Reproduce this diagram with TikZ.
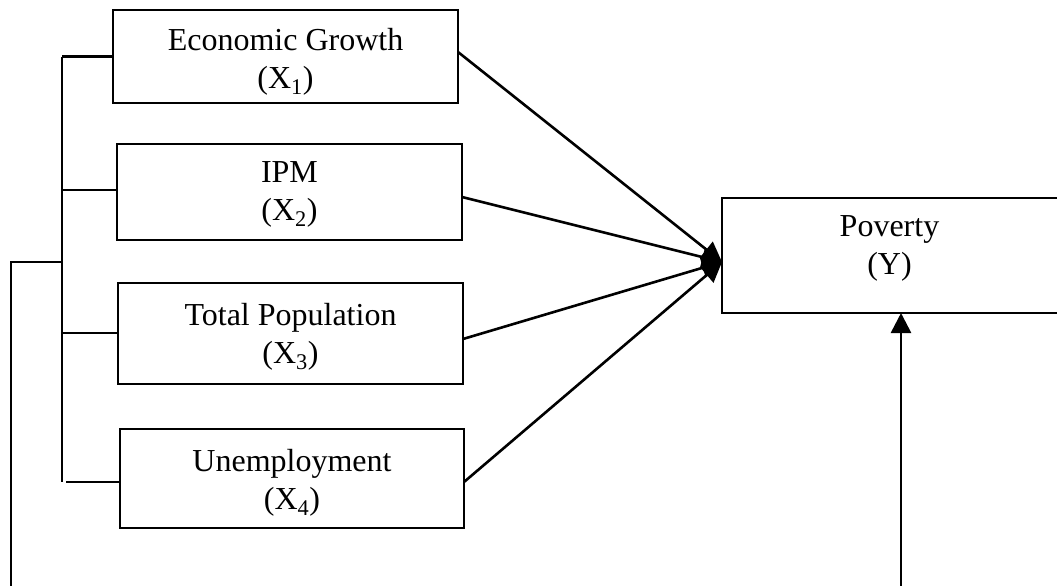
\documentclass[tikz,border=0pt]{standalone}
\usepackage{fontspec}
\setmainfont{Liberation Serif}
\usetikzlibrary{arrows.meta}
\begin{document}
\begin{tikzpicture}[x=1pt,y=-1pt,
  ln/.style={line width=2.6pt},
  varbox/.style={draw,ln,inner sep=0pt,outer sep=0pt},
  txt/.style={align=center,inner sep=0pt,font=\fontsize{32}{38}\selectfont},
  arr/.style={ln,-{Triangle[length=20pt,width=20pt]}}]
\useasboundingbox (0,0) rectangle (1057,586);
\node[varbox,minimum width=345pt,minimum height=93pt] (b1) at (285.5,56.5) {};
\node[varbox,minimum width=345pt,minimum height=96pt] (b2) at (289.5,192) {};
\node[varbox,minimum width=345pt,minimum height=101pt] (b3) at (290.5,333.5) {};
\node[varbox,minimum width=344pt,minimum height=99pt] (b4) at (292,478.5) {};
\node[varbox,draw=none,minimum width=335pt,minimum height=115pt] (p) at (889.5,255.5) {};
\node[txt] (t1) at ([yshift=-5pt]b1.center) {Economic Growth\\(X\textsubscript{1})};
\node[txt] (t2) at ([yshift=-2pt]b2.center) {IPM\\(X\textsubscript{2})};
\node[txt] (t3) at ([yshift=-3pt]b3.center) {Total Population\\(X\textsubscript{3})};
\node[txt] (t4) at ([yshift=-4pt]b4.center) {Unemployment\\(X\textsubscript{4})};
\node[txt] (tp) at ([yshift=7pt]p.center) {Poverty\\(Y)};
\draw[ln] (p.north east) -- (p.north west) -- (p.south west) -- (p.south east);
% target point
\coordinate (t) at ([yshift=-6.5pt]p.west);
\draw[arr] ([yshift=4.5pt]b1.east) -- (t);
\draw[arr] ([yshift=-5pt]b2.east) -- (t);
\draw[arr] ([yshift=-5.5pt]b3.east) -- (t);
\draw[arr] ([yshift=-3.5pt]b4.east) -- (t);
% left bracket
\coordinate (bt) at (62,57);
\coordinate (bb) at (62,482);
\coordinate (bm) at (62,262);
\coordinate (ol) at (11,262);
\coordinate (od) at (11,586);
\draw[ln] (bt) -- (bb);
\draw[ln] (b1.west) -- (b1.west -| bt);
\draw[ln] ([yshift=2pt]b2.west) -- ([yshift=2pt]b2.west -| bt);
\draw[ln] ([yshift=0.5pt]b3.west) -- ([yshift=0.5pt]b3.west -| bt);
\draw[ln] ([yshift=-3.5pt]b4.west) -- ([yshift=-3.5pt,xshift=4pt]b4.west -| bt);
\draw[ln] (bm) -- (ol) -- (od);
% bottom arrow
\coordinate (v) at (901,586);
\draw[arr] (v) -- (v |- p.south);
\end{tikzpicture}
\end{document}
